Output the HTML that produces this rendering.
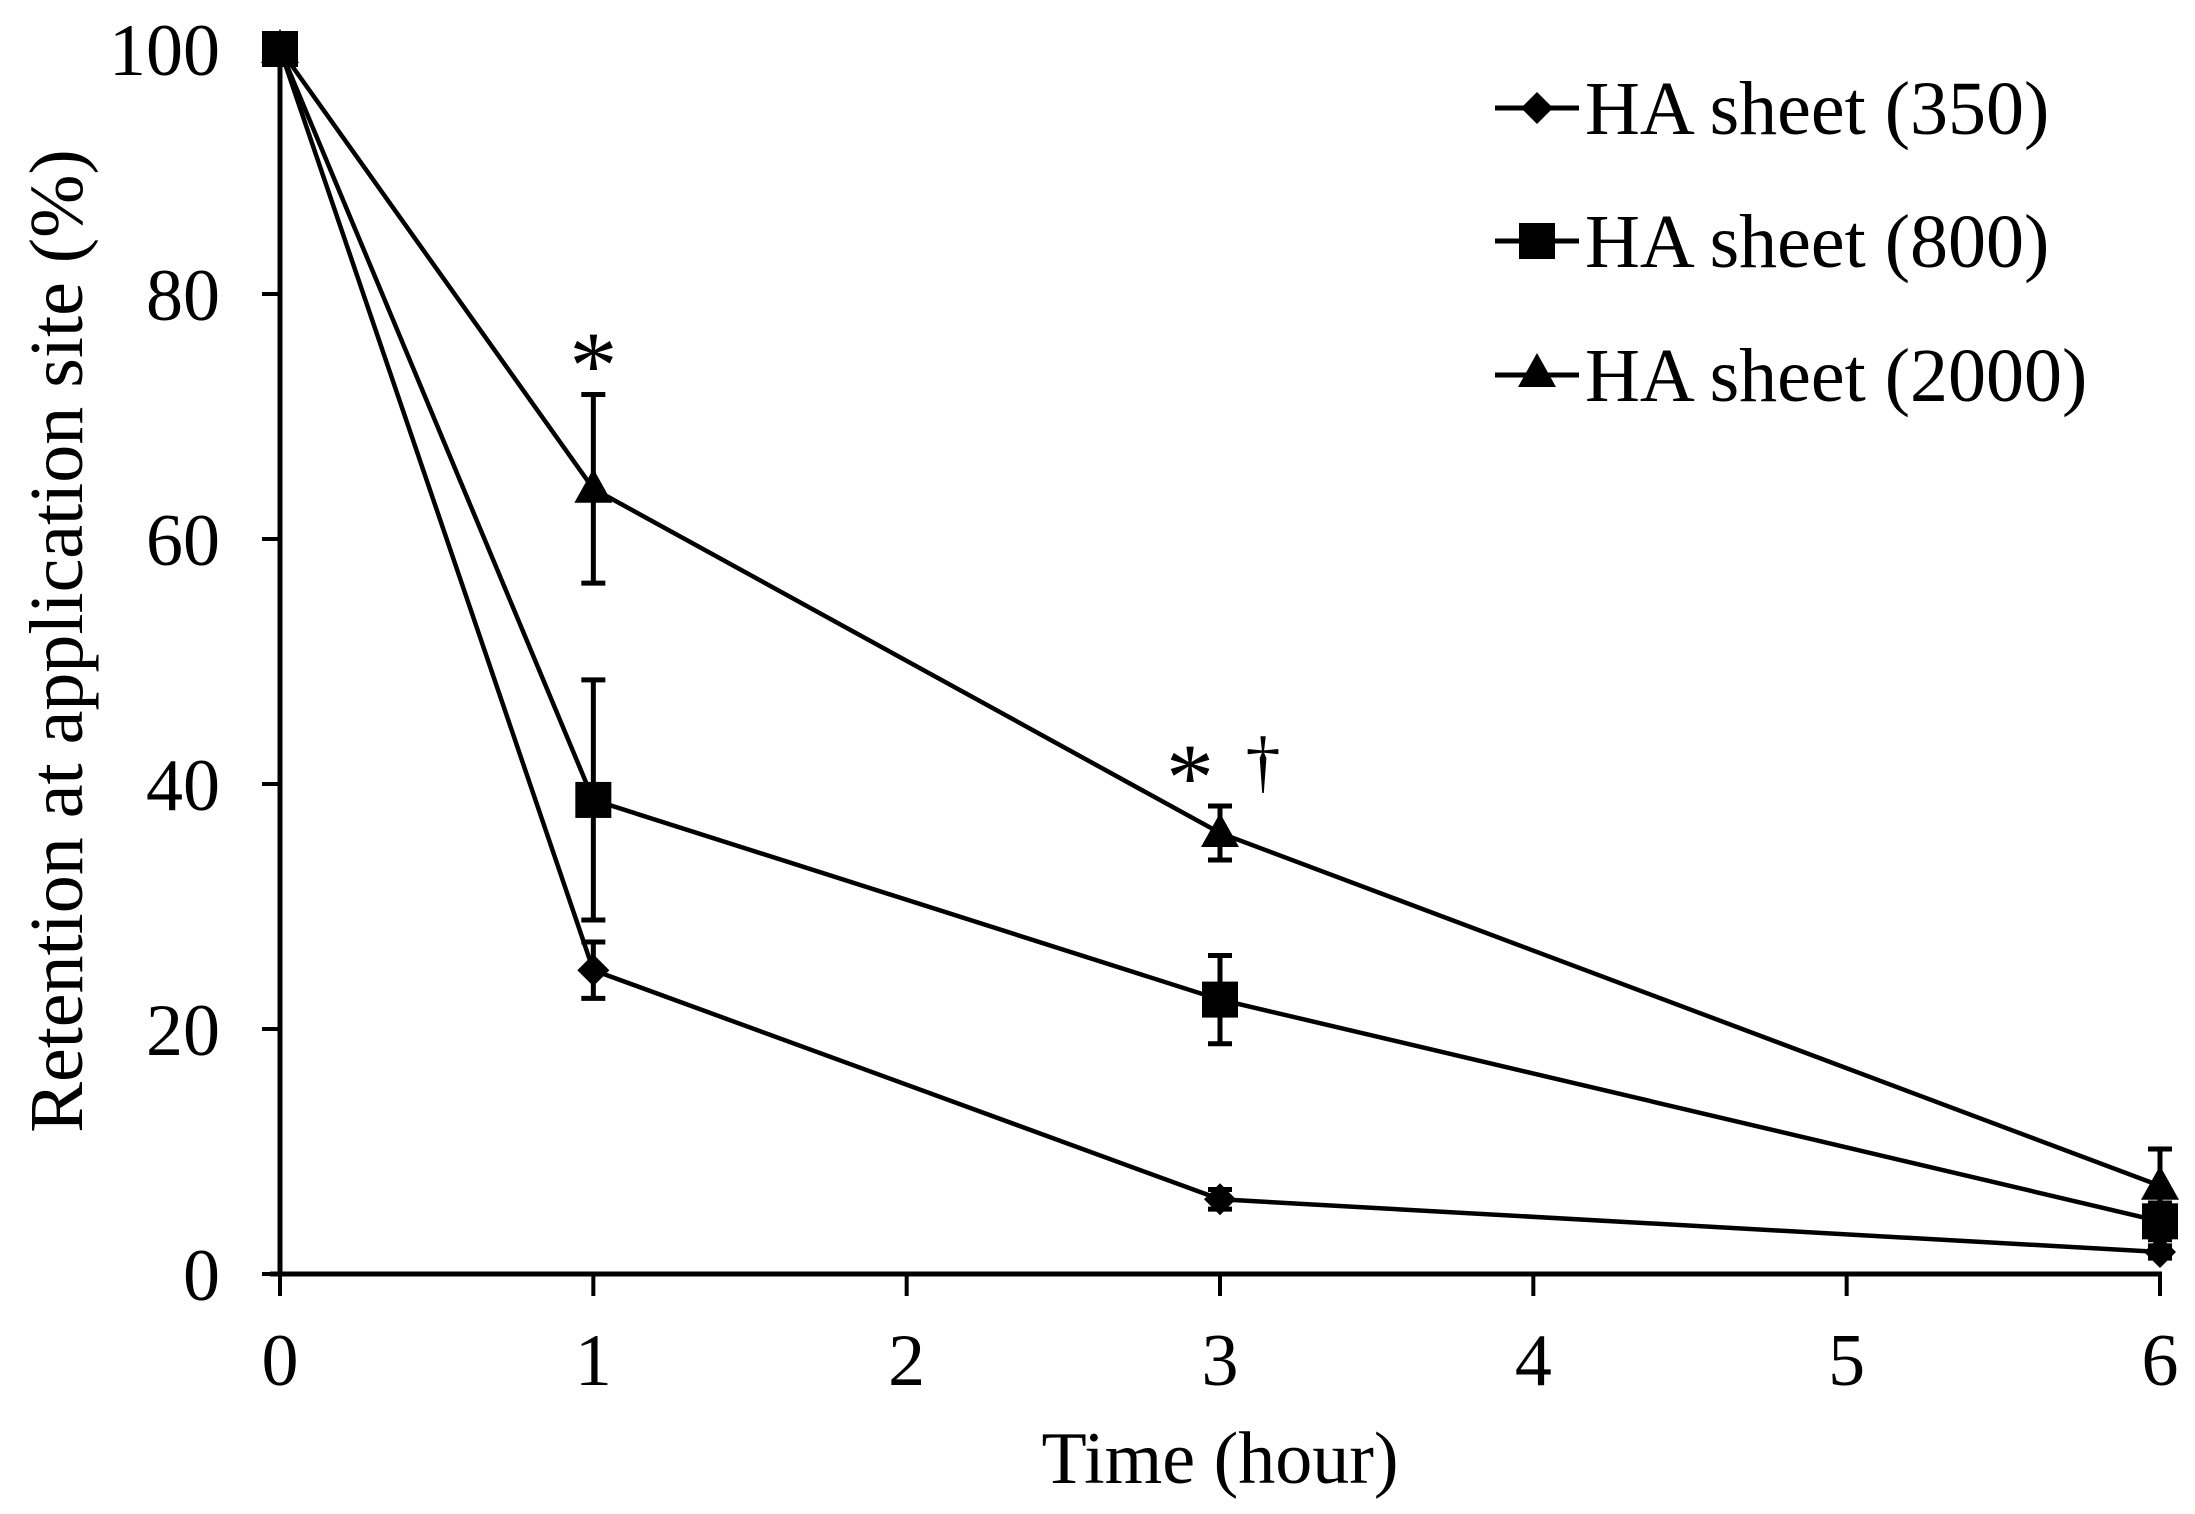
<!DOCTYPE html>
<html><head><meta charset="utf-8"><style>
html,body{margin:0;padding:0;background:#fff}
svg{display:block}
text{font-family:"Liberation Serif",serif;fill:#000}
</style></head><body>
<svg id="chart" width="2195" height="1514" viewBox="0 0 2195 1514" xmlns="http://www.w3.org/2000/svg"></svg>
<script>
const xCategories=[0,1,3,6];
const xTicks=[0,1,2,3,4,5,6];
const yTicks=[0,20,40,60,80,100];
const seriesNames=["HA sheet (350)","HA sheet (800)","HA sheet (2000)"];
const s350=[100,24.8,6.1,1.8];
const s800=[100,38.7,22.4,4.3];
const s2000=[100,64.1,36.0,7.2];
const e350=[0,2.3,0.8,0.5];
const e800=[0,9.8,3.6,1.5];
const e2000=[0,7.7,2.2,3.0];
const NS="http://www.w3.org/2000/svg";
const svg=document.getElementById('chart');
const X0=280,X1=2160,Y0=1274,Y1=49;
const xs=v=>X0+(X1-X0)*v/6;
const ys=v=>Y0-(Y0-Y1)*v/100;
function mk(tag,attrs,parent){const e=document.createElementNS(NS,tag);for(const k in attrs)e.setAttribute(k,attrs[k]);(parent||svg).appendChild(e);return e;}
let a=mk('line',{x1:X0-10,y1:Y0,x2:X1+2,y2:Y0,stroke:'#000','stroke-width':5});


a=mk('line',{x1:X0,y1:Y0,x2:X0,y2:Y1,stroke:'#000','stroke-width':5});


xTicks.forEach(t=>{
 const l=mk('line',{x1:xs(t),y1:Y0,x2:xs(t),y2:Y0+22,stroke:'#000','stroke-width':4});
 
 
 const tx=mk('text',{x:xs(t),y:1385,'text-anchor':'middle','font-size':74});
 tx.textContent=t;
 
 
});
yTicks.forEach(t=>{
 const l=mk('line',{x1:X0-18,y1:ys(t),x2:X0,y2:ys(t),stroke:'#000','stroke-width':4});
 
 
 const tx=mk('text',{x:220,y:ys(t)+26,'text-anchor':'end','font-size':74});
 tx.textContent=t;
 
 
});
let t=mk('text',{x:1220,y:1483,'text-anchor':'middle','font-size':74});
t.textContent='Time (hour)';


t=mk('text',{x:0,y:0,'text-anchor':'middle','font-size':76,transform:'translate(82,641) rotate(-90)'});
t.textContent='Retention at application site (%)';


function marker(type,x,y,g){
 if(type==='diamond')return mk('polygon',{points:`${x},${y-16} ${x+16},${y} ${x},${y+16} ${x-16},${y}`,fill:'#000'},g);
 if(type==='square')return mk('rect',{x:x-18,y:y-18,width:36,height:36,fill:'#000'},g);
 return mk('polygon',{points:`${x},${y-20} ${x+19},${y+14} ${x-19},${y+14}`,fill:'#000'},g);
}
const all=[[s350,e350,'diamond','series-350'],[s800,e800,'square','series-800'],[s2000,e2000,'triangle','series-2000']];
all.forEach(([vals,errs,type,name])=>{
 const g=mk('g',{});
 
 
 vals.forEach((v,i)=>{
  if(errs[i]>0){
   const x=xs(xCategories[i]);
   const eb=mk('path',{d:`M${x},${ys(v+errs[i])}V${ys(v-errs[i])}M${x-12},${ys(v+errs[i])}H${x+12}M${x-12},${ys(v-errs[i])}H${x+12}`,stroke:'#000','stroke-width':5,fill:'none'},g);
   
   
  }
 });
 const ln=mk('polyline',{points:vals.map((v,i)=>xs(xCategories[i])+','+ys(v)).join(' '),stroke:'#000','stroke-width':4.5,fill:'none'},g);
 
 
 vals.forEach((v,i)=>{
  const m=marker(type,xs(xCategories[i]),ys(v),g);
  
  
 });
});
[[xs(1),398,'*'],[xs(3)-30,810,'*']].forEach(([x,y,s])=>{
 const a=mk('text',{x:x,y:y,'text-anchor':'middle','font-size':96});
 a.textContent=s;
 
 
});
t=mk('text',{x:1263,y:785,'text-anchor':'middle','font-size':70});
t.textContent='†';


const legY=[108,241,375];
const types=['diamond','square','triangle'];
seriesNames.forEach((n,i)=>{
 const g=mk('g',{});
 
 
 mk('line',{x1:1495,y1:legY[i],x2:1579,y2:legY[i],stroke:'#000','stroke-width':5},g);
 marker(types[i],1537,legY[i]+(i===2?-2:0),g);
 const tx=mk('text',{x:1585,y:legY[i]+26,'font-size':76},g);
 tx.textContent=n;
});
</script>
</body></html>
